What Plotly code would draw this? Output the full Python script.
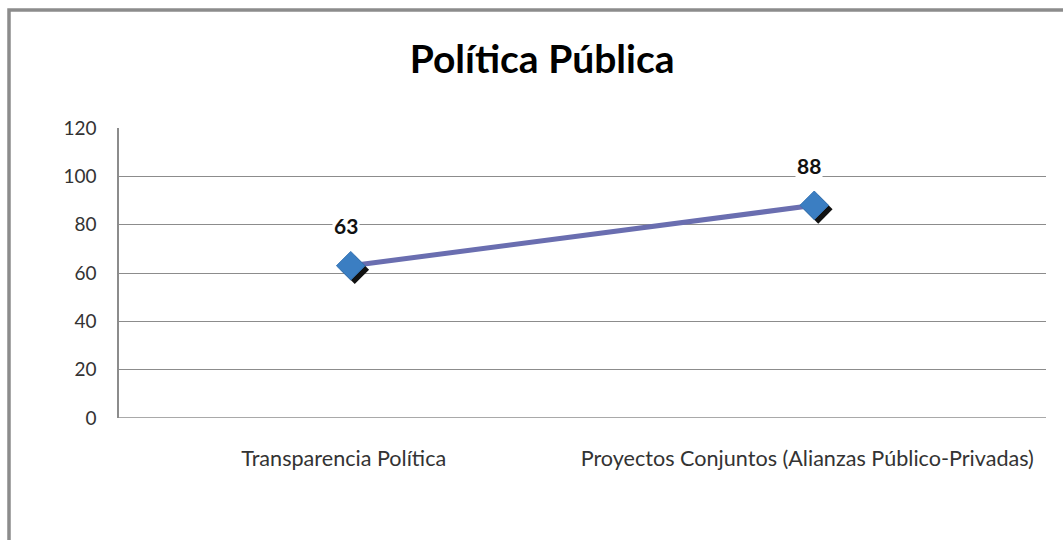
import plotly.graph_objects as go

categories = ["Transparencia Política", "Proyectos Conjuntos (Alianzas Público-Privadas)"]
values = [63, 88]
y_ticks = [0, 20, 40, 60, 80, 100, 120]
title_text = "Política Pública"

W, H = 1063, 540
L, R, T, B = 119, 17, 128, 122
plot_w = W - L - R
plot_h = H - T - B
y_max = 120

# pixel offset of the marker drop-shadow, converted to axis units
shadow_dx_px, shadow_dy_px = 4, 4
dx = shadow_dx_px / (plot_w / len(categories))
dy = shadow_dy_px / (plot_h / y_max)

font_family = "Lato, Open Sans, sans-serif"
marker_size = 22

fig = go.Figure()

# connecting line
fig.add_trace(go.Scatter(
    x=categories, y=values, mode="lines",
    line=dict(color="#6a6eb0", width=5),
    hoverinfo="skip", showlegend=False,
))

# shadow of the diamond markers (on a slightly shifted overlay axis pair)
fig.add_trace(go.Scatter(
    x=categories, y=values, mode="markers", xaxis="x2", yaxis="y2",
    marker=dict(symbol="diamond", size=marker_size, color="#111111"),
    hoverinfo="skip", showlegend=False,
))

# diamond markers, drawn on top of their shadow
fig.add_trace(go.Scatter(
    x=categories, y=values, mode="markers", xaxis="x3", yaxis="y3",
    marker=dict(symbol="diamond", size=marker_size, color="#3b7ec2",
                line=dict(color="#3574b5", width=1)),
    showlegend=False,
))

# value labels above each point
for c, v in zip(categories, values):
    fig.add_annotation(
        x=c, y=v, text=f"<b>{v}</b>", showarrow=False,
        yshift=40, xshift=-5, bgcolor="white",
        font=dict(family=font_family, size=21, color="#111111"),
    )

fig.update_layout(
    width=W, height=H,
    margin=dict(l=L, r=R, t=T, b=B),
    paper_bgcolor="white", plot_bgcolor="white",
    title=dict(text=f"<b>{title_text}</b>", x=0.51, xanchor="center",
               y=1 - 59 / H, yanchor="middle",
               font=dict(family=font_family, size=39, color="#000000")),
    xaxis=dict(
        type="category", range=[-0.5, 1.5], showgrid=False,
        showline=False, zeroline=False, ticks="outside", ticklen=21,
        tickcolor="rgba(0,0,0,0)", ticklabelshift=-7,
        tickfont=dict(family=font_family, size=21.6, color="#333333"),
    ),
    yaxis=dict(
        range=[0, y_max], tickvals=y_ticks, showgrid=True,
        gridcolor="#8c8c8c", gridwidth=1.2, zeroline=False,
        showline=True, linecolor="#8c8c8c", linewidth=1.5,
        ticks="outside", ticklen=17, tickcolor="rgba(0,0,0,0)",
        tickfont=dict(family=font_family, size=19, color="#333333"),
    ),
    xaxis2=dict(type="category", overlaying="x", range=[-0.5 - dx, 1.5 - dx],
                visible=False),
    yaxis2=dict(overlaying="y", range=[dy, y_max + dy], visible=False),
    xaxis3=dict(type="category", overlaying="x", range=[-0.5, 1.5],
                visible=False),
    yaxis3=dict(overlaying="y", range=[0, y_max], visible=False),
    shapes=[
        # axis base line
        dict(type="line", xref="paper", yref="y", x0=0, x1=1, y0=0, y1=0,
             line=dict(color="#8c8c8c", width=1.5), layer="above"),
        # chart frame
        dict(type="rect", xref="paper", yref="paper",
             x0=(9 - L) / plot_w, x1=(W + 20 - L) / plot_w,
             y0=-(H + 20 - T - plot_h) / plot_h, y1=1 + (T - 10) / plot_h,
             line=dict(color="#8c8c8c", width=3.5), layer="below"),
    ],
)

fig.write_html("out.html")
